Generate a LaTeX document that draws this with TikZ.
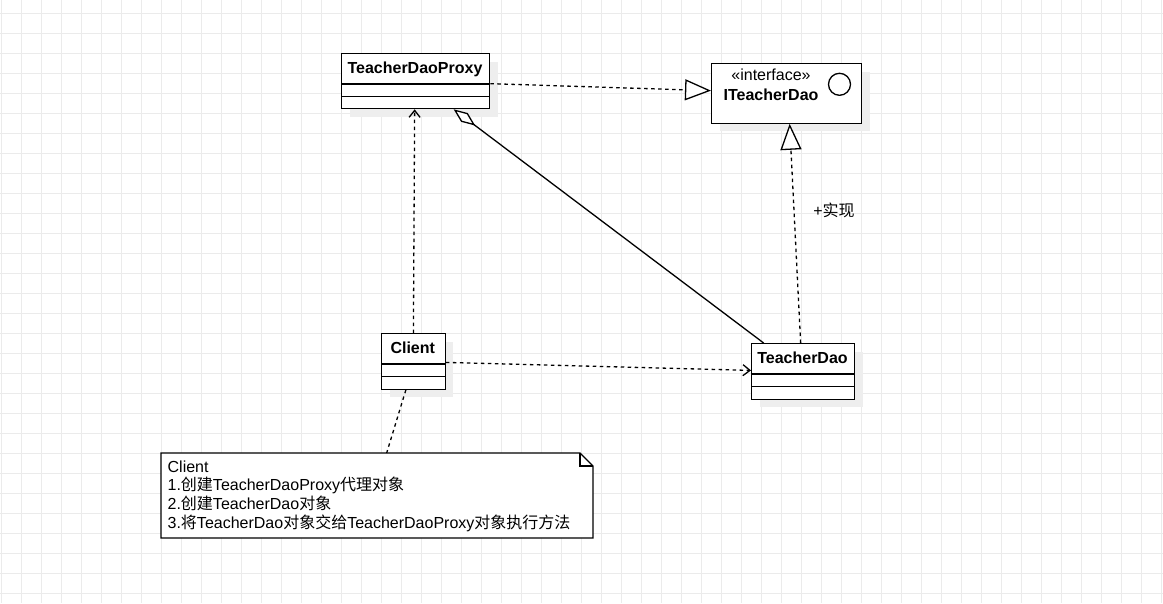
\documentclass[tikz,border=0pt]{standalone}
\usepackage{fontspec}
\setmainfont{Liberation Sans}
\newfontfamily\cjk{Noto Sans CJK SC}
\usetikzlibrary{arrows.meta,calc,shadows}
\definecolor{gridc}{HTML}{EBEBEB}
\definecolor{shadowc}{HTML}{EEEEEE}
\begin{document}
\begin{tikzpicture}[x=1pt,y=-1pt,
  line width=1.3pt,
  umlbox/.style={draw, fill=white, anchor=north west, inner sep=0pt, line width=1.3pt,
    drop shadow={shadow xshift=8pt, shadow yshift=-8pt, fill=shadowc, opacity=1}},
  title/.style={font=\fontsize{16}{19}\selectfont\bfseries, inner sep=0pt},
  plain/.style={font=\fontsize{16}{19}\selectfont, inner sep=0pt},
  dashline/.style={dash pattern=on 3.5pt off 3.5pt, line width=1.3pt},
  realize/.style={-{Triangle[open, length=26pt, width=21pt, fill=white]}},
  depend/.style={-{Straight Barb[length=7pt, width=11pt, line width=1.3pt]}},
  aggreg/.style={-{Diamond[open, length=27pt, width=11pt, fill=white]}}
]
\useasboundingbox (0,0) rectangle (1163,603);
\fill[white] (0,0) rectangle (1163,603);
\foreach \x in {1,21,...,1161} \draw[gridc, line width=1pt] (\x,0) -- (\x,603);
\foreach \y in {13,33,...,593} \draw[gridc, line width=1pt] (0,\y) -- (1163,\y);

% classes
\node[umlbox, minimum width=148pt, minimum height=55pt] (proxy) at (341,53) {};
\draw (341,84) -- (489,84) (341,96.7) -- (489,96.7);
\node[title] (proxyt) at (415,69) {TeacherDaoProxy};

\node[umlbox, minimum width=150pt, minimum height=59.5pt] (iface) at (711,63) {};
\node[plain] (ifacest) at (771,75) {«interface»};
\node[title] (ifacet) at (771,95) {ITeacherDao};
\draw (839.5,84.3) circle (11pt);

\node[umlbox, minimum width=63.5pt, minimum height=55.5pt] (client) at (381,333) {};
\draw (381,364) -- (444.5,364) (381,376.7) -- (444.5,376.7);
\node[title] (clientt) at (412.75,348) {Client};

\node[umlbox, minimum width=103pt, minimum height=55.5pt] (dao) at (751,343) {};
\draw (751,374) -- (854,374) (751,386.7) -- (854,386.7);
\node[title] (daot) at (802.5,358) {TeacherDao};

% note
\node[anchor=north west, inner sep=0pt, minimum width=432pt, minimum height=85pt] (note) at (161,453) {};
\draw[fill=white] (161,453) -- (580,453) -- (593,466) -- (593,538) -- (161,538) -- cycle;
\draw (580,453) -- (580,466) -- (593,466);
\node[plain, anchor=base west] (n1) at (167,472) {Client};
\node[plain, anchor=base west] (n2) at (167,490.7) {1.{\cjk 创建}TeacherDaoProxy{\cjk 代理对象}};
\node[plain, anchor=base west] (n3) at (167,509.4) {2.{\cjk 创建}TeacherDao{\cjk 对象}};
\node[plain, anchor=base west] (n4) at (167,528.1) {3.{\cjk 将}TeacherDao{\cjk 对象交给}TeacherDaoProxy{\cjk 对象执行方法}};

% connectors
\draw[dashline, realize] ([yshift=-2.5pt]proxy.east) -- ([yshift=2.75pt]iface.west);
\draw[dashline, realize] ([xshift=-2.5pt]dao.north) -- ([xshift=3pt]iface.south);
\node[plain] (lbl) at (834,210) {+{\cjk 实现}};
\draw[aggreg] ([xshift=-39.5pt]dao.north) -- ([xshift=38pt]proxy.south);
\draw[dashline, depend] (client.north) -- ([xshift=-1pt]proxy.south);
\draw[dashline, depend] ([yshift=-1pt]client.east) -- ([yshift=1pt]dao.west);
\draw[dashline] ([xshift=-7.5pt]client.south) -- ([xshift=9pt]note.north);
\end{tikzpicture}
\end{document}
